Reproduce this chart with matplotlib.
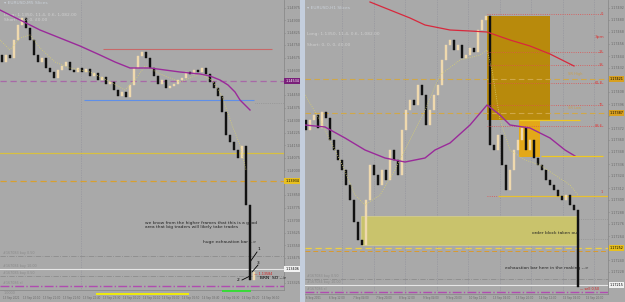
import numpy as np
import matplotlib.pyplot as plt
import matplotlib.transforms as mtransforms
from matplotlib.ticker import MultipleLocator, FuncFormatter
from matplotlib.patches import Rectangle

BG = '#a9a9a9'
UP = '#efd9ae'
DOWN = '#111111'

# ---- left chart (M5) ----
left_first_open = 1.14690
left_close = [1.14648, 1.14690, 1.14672, 1.14780, 1.14870, 1.14912, 1.14852, 1.14780,
              1.14690, 1.14648, 1.14672, 1.14612, 1.14588, 1.14552, 1.14600, 1.14624,
              1.14648, 1.14600, 1.14588, 1.14612, 1.14588, 1.14606, 1.14564, 1.14582,
              1.14540, 1.14558, 1.14516, 1.14528, 1.14480, 1.14444, 1.14468, 1.14438,
              1.14510, 1.14612, 1.14684, 1.14708, 1.14672, 1.14612, 1.14564, 1.14516,
              1.14540, 1.14492, 1.14504, 1.14516, 1.14540, 1.14552, 1.14588, 1.14576,
              1.14600, 1.14588, 1.14612, 1.14576, 1.14528, 1.14492, 1.14444, 1.14348,
              1.14210, 1.14168, 1.14120, 1.14072, 1.14144, 1.13790, 1.13340, 1.13388]
left_ma_x = [-0.5, 2, 4.5, 9.5, 14.5, 19.5, 24.5, 28.25, 32, 34.5, 37, 40.75, 44.5, 49.5,
             52, 54.5, 56.5, 58.25, 59.5, 60.75, 62]
left_ma_y = [1.14960, 1.14930, 1.14900, 1.14840, 1.14792, 1.14744, 1.14690, 1.14648,
             1.14612, 1.14612, 1.14612, 1.14600, 1.14588, 1.14576, 1.14564, 1.14540,
             1.14510, 1.14468, 1.14420, 1.14390, 1.14360]
left_fast_x = [-0.5, 2, 4.5, 7, 9.5, 13.25, 17, 22, 27, 30.75, 33.25, 35.75, 39.5, 44.5,
               49.5, 52.5, 55, 57.5, 59.5, 61]
left_fast_y = [1.14780, 1.14720, 1.14792, 1.14810, 1.14732, 1.14648, 1.14612, 1.14588,
               1.14528, 1.14480, 1.14540, 1.14624, 1.14576, 1.14528, 1.14576, 1.14540,
               1.14444, 1.14270, 1.14150, 1.14000]
left_dates = ['13 Sep 2021', '13 Sep 20:10', '13 Sep 21:00', '13 Sep 21:50', '13 Sep 22:40',
              '13 Sep 23:30', '14 Sep 00:20', '14 Sep 01:10', '14 Sep 02:00', '14 Sep 02:50',
              '14 Sep 03:40', '14 Sep 04:30', '14 Sep 05:20', '14 Sep 06:10']
left_orders = ['#167083 buy 0.50', '#167084 buy 10.00', '#167085 buy 0.50', '#167086 sl']
left_order_levels = [1.13484, 1.13406, 1.13364, 1.13304]

# ---- right chart (H1) ----
right_first_open = 1.17380
right_close = [1.17370, 1.17380, 1.17385, 1.17372, 1.17388, 1.17382, 1.17360, 1.17350,
               1.17340, 1.17330, 1.17315, 1.17300, 1.17278, 1.17260, 1.17255, 1.17300,
               1.17335, 1.17325, 1.17315, 1.17330, 1.17320, 1.17350, 1.17340, 1.17325,
               1.17370, 1.17390, 1.17400, 1.17395, 1.17415, 1.17405, 1.17375, 1.17390,
               1.17405, 1.17415, 1.17440, 1.17455, 1.17460, 1.17450, 1.17455, 1.17442,
               1.17445, 1.17452, 1.17448, 1.17470, 1.17480, 1.17484, 1.17355, 1.17350,
               1.17365, 1.17335, 1.17310, 1.17330, 1.17350, 1.17360, 1.17372, 1.17350,
               1.17360, 1.17342, 1.17335, 1.17330, 1.17320, 1.17315, 1.17310, 1.17304,
               1.17300, 1.17305, 1.17295, 1.17290, 1.17213]
right_red_x = [16, 21, 26, 29.75, 36, 41, 45.25, 51, 56, 61, 67]
right_red_y = [1.17498, 1.17490, 1.17482, 1.17475, 1.17470, 1.17469, 1.17468, 1.17460,
               1.17454, 1.17446, 1.17434]
right_ma_x = [-0.25, 4.75, 9.75, 14.75, 19.75, 24.75, 29.75, 32.25, 36, 41, 45.25, 48.5,
              51, 56, 61, 64.75, 67.25]
right_ma_y = [1.17375, 1.17373, 1.17362, 1.17350, 1.17342, 1.17338, 1.17342, 1.17350,
              1.17357, 1.17375, 1.17395, 1.17385, 1.17375, 1.17372, 1.17362, 1.17350, 1.17344]
right_fast_x = [-0.25, 3.5, 8.5, 12.25, 14.75, 18.5, 22.25, 26, 29.75, 33.5, 38.5, 43.5,
                45.25, 46.5, 48.5, 51, 54.75, 58.5, 62.25, 66, 68]
right_fast_y = [1.17405, 1.17380, 1.17340, 1.17305, 1.17295, 1.17305, 1.17330, 1.17360,
                1.17390, 1.17425, 1.17440, 1.17445, 1.17450, 1.17430, 1.17380, 1.17350,
                1.17340, 1.17335, 1.17325, 1.17315, 1.17305]
fib_levels = [1.17486, 1.17448, 1.17435, 1.17417, 1.17395, 1.17374]
fib_labels = ['0', '23', '38', '61.8', '76', '88.6']
right_dates = ['6 Sep 2021', '6 Sep 12:00', '7 Sep 04:00', '7 Sep 20:00', '8 Sep 12:00',
               '9 Sep 04:00', '9 Sep 20:00', '10 Sep 12:00', '13 Sep 04:00', '13 Sep 20:00',
               '14 Sep 12:00', '15 Sep 04:00', '15 Sep 20:00']
right_orders = ['#167083 buy 0.50', '#167084 buy 10.00', '#167086 sl']
right_order_levels = [1.17221, 1.17215, 1.17208]

left_boxes = [(1.14534, '#7a1f7a', 'white'), (1.13934, '#e8c020', 'black'),
              (1.13406, '#f2f2f2', 'black')]
right_boxes = [(1.17421, '#d8a020', 'black'), (1.17387, '#d8a020', 'black'),
               (1.17252, '#e8c020', 'black'), (1.17215, '#f2f2f2', 'black')]

FS = 3.2
TFS = 2.4


def candles(ax, closes, first_open):
    closes = np.array(closes)
    opens = np.concatenate([[first_open], closes[:-1]])
    x = np.arange(len(closes))
    cols = [UP if c >= o else DOWN for o, c in zip(opens, closes)]
    ax.bar(x, closes - opens, bottom=opens, width=0.4, color=cols,
           edgecolor=cols, linewidth=0.3, zorder=3)


def axis_box(ax, y, fc, tc):
    tr = mtransforms.blended_transform_factory(ax.transAxes, ax.transData)
    ax.text(1.004, y, '%.5f' % y, transform=tr, fontsize=TFS, color=tc, va='center',
            ha='left', clip_on=False, zorder=6,
            bbox=dict(boxstyle='square,pad=0.2', fc=fc, ec='none'))


def style_axis(ax, step, boxes, near):
    ax.set_facecolor(BG)
    ax.yaxis.tick_right()
    ax.yaxis.set_major_locator(MultipleLocator(step))
    levels = [b[0] for b in boxes]

    def fmt(v, pos):
        if any(abs(v - lv) < near for lv in levels):
            return ''
        return '%.5f' % v
    ax.yaxis.set_major_formatter(FuncFormatter(fmt))
    ax.tick_params(axis='y', labelsize=TFS, colors='#6a6a6a', length=1, width=0.4, pad=0.8)
    ax.tick_params(axis='x', length=0, labelbottom=False)
    for s in ['top', 'left']:
        ax.spines[s].set_visible(False)
    for s in ['right', 'bottom']:
        ax.spines[s].set_color('#8a8a8a')
        ax.spines[s].set_linewidth(0.6)
    for lv, fc, tc in boxes:
        axis_box(ax, lv, fc, tc)


fig = plt.figure(figsize=(6.25, 3.02), dpi=100, facecolor=BG)
fig.patches.append(Rectangle((300 / 625, 0), 5 / 625, 1, transform=fig.transFigure,
                             fc='#c4cedd', ec='none'))
fig.patches.append(Rectangle((303.5 / 625, 0), 0.8 / 625, 1, transform=fig.transFigure,
                             fc='#8e98a8', ec='none'))

# ================= LEFT =================
axl = fig.add_axes([0, 12 / 302, 284 / 625, 290 / 302])
axl.set_xlim(-0.5, 70.5)
axl.set_ylim(1.13280, 1.15020)
style_axis(axl, 0.00075, left_boxes, 0.00040)

axl.axvline(19.75, color='#8f8f9a', lw=0.5, ls=(0, (1, 1.5)))
axl.axhline(1.14534, color='#a868a8', lw=0.9, ls=(0, (5, 3)))
axl.hlines(1.14726, 25.25, 67.5, color='#c86868', lw=0.8)
axl.hlines(1.14420, 20.5, 63, color='#5f8fe8', lw=0.8)
axl.hlines(1.14402, 63.25, 70.5, color='#8c8c8c', lw=0.5, ls=':')
axl.axhline(1.14102, color='#d8c040', lw=0.9)
axl.axhline(1.13934, color='#d8a030', lw=0.9, ls=(0, (5, 3)))
axl.axhline(left_order_levels[0], color='#8c8c8c', lw=0.6, ls='-.')
axl.axhline(left_order_levels[1], color='#e6e6e6', lw=0.8)
axl.axhline(left_order_levels[2], color='#8c8c8c', lw=0.6, ls='-.')
axl.axhline(left_order_levels[3], color='#b04cb0', lw=1.0, ls='-.')
for lvl, lab in zip(left_order_levels, left_orders):
    axl.text(0.3, lvl + 0.00006, lab, fontsize=2.4, color='#8a8a8a', va='bottom')

axl.plot(left_fast_x, left_fast_y, color='#d8d070', lw=0.6, ls=':', zorder=4)
axl.plot(left_ma_x, left_ma_y, color='#9a2a9a', lw=1.0, zorder=4)
candles(axl, left_close, left_first_open)

axl.text(35.75, 1.13670, 'we know from the higher frames that this is a good\n'
         'area that big traders will likely take trades', fontsize=FS, color='#222222',
         va='center', linespacing=1.3)
axl.text(50.25, 1.13568, 'huge exhaustion bar -->', fontsize=FS, color='#222222', va='center')
axl.plot([62, 63.75], [1.13448, 1.13508], color='black', lw=0.6)
axl.plot([62.5, 64], [1.13388, 1.13430], color='black', lw=0.6)
axl.plot([60, 62], [1.13340, 1.13364], color='black', lw=0.6)
axl.text(63.8, 1.13526, '1', fontsize=FS, va='center')
axl.text(63.8, 1.13442, '3', fontsize=FS, va='center')
axl.text(59.3, 1.13340, '2', fontsize=FS, va='center', ha='right')
axl.text(64.5, 1.13352, 'BRN  SO -->', fontsize=FS, va='center')
axl.text(63, 1.13378, '— 1.13584', fontsize=2.4, color='#d02020', va='center')

# bottom strip of left chart
axl.hlines(1.13256, 23.5, 46.75, color='#f5f000', lw=1.3, clip_on=False)
axl.hlines(1.13277, 55, 62.25, color='#30e030', lw=1.3, clip_on=False, zorder=7)
axl.text(0.3, 1.13264, '1.0000', fontsize=2.4, color='#8a8a8a', va='center', clip_on=False)
for xp, lab in zip(np.linspace(0.3, 65, len(left_dates)), left_dates):
    axl.text(xp, 1.13234, lab, fontsize=1.9, color='#6a6a6a', va='center', clip_on=False)

axl.text(0.5, 1.15000, '▾ EURUSD,M5 Slices', fontsize=FS, color='#c9d0d8', va='center')
axl.text(0.5, 1.14930, 'Long: 1.1350, 11.4, 0.6, 1,082.00', fontsize=FS, color='#cfcfcf',
         va='center')
axl.text(0.5, 1.14898, 'Short: 0, 0, 0, £0.00', fontsize=FS, color='#cfcfcf', va='center')

# ================= RIGHT =================
axr = fig.add_axes([305 / 625, 8 / 302, 303 / 625, 294 / 302])
axr.set_xlim(-0.25, 75.5)
axr.set_ylim(1.17206, 1.17500)
style_axis(axr, 0.00012, right_boxes, 0.00007)

for gx in np.arange(9, 75, 7.875):
    axr.axvline(gx, color='#8f8f9a', lw=0.5, ls=(0, (1, 1.5)), zorder=1)

axr.add_patch(Rectangle((45.25, 1.17380), 61 - 45.25, 1.17484 - 1.17380,
                        fc='#b88a0c', ec='none', zorder=2))
axr.add_patch(Rectangle((53.25, 1.17343), 58.5 - 53.25, 1.17380 - 1.17343,
                        fc='#e3a818', ec='none', zorder=2))
axr.add_patch(Rectangle((13.75, 1.17255), 67.75 - 13.75, 1.17284 - 1.17255,
                        fc='#c9c36c', ec='#e0d890', lw=0.4, zorder=2))
axr.hlines(1.17380, 53.25, 68.5, color='#f0c820', lw=0.9, zorder=5)
axr.hlines(1.17344, 58.75, 74.25, color='#f0c820', lw=0.9, zorder=5)
for lvl, lab in zip(fib_levels, fib_labels):
    axr.hlines(lvl, 45.25, 74.25, color='#e05050', lw=0.6, ls=':', zorder=4)
    axr.text(74.25, lvl, lab, fontsize=2.6, color='#d83a3a', ha='right', va='center')
axr.text(73.3, 1.17463, '3pm', fontsize=FS, color='#d83a3a', ha='center', va='center')

axr.axhline(1.17421, color='#d0a848', lw=0.8, ls=(0, (5, 3)), zorder=2)
axr.axhline(1.17387, color='#d0a848', lw=0.8, ls=(0, (5, 3)), zorder=2)
axr.text(65.5, 1.17424, 'SR High', fontsize=2.6, color='#c8a050', va='bottom')
axr.text(65.5, 1.17390, 'SR Low', fontsize=2.6, color='#c8a050', va='bottom')
axr.axhline(1.17252, color='#f0d040', lw=0.9, ls=(0, (5, 3)), zorder=2)
axr.axhline(1.17249, color='#d89a30', lw=0.7, ls=(0, (5, 3)), zorder=2)
axr.hlines(1.17304, 48, 75.5, color='#e8c030', lw=0.9, zorder=2)
axr.hlines(1.17304, 45.25, 48, color='#e05050', lw=0.6, ls=':', zorder=2)
axr.text(74.25, 1.17306, '1', fontsize=2.6, color='#d83a3a', ha='right', va='bottom')
axr.hlines([1.17281, 1.17261], 67.75, 75.5, color='#8c8c8c', lw=0.5, ls=':')

axr.axhline(right_order_levels[0], color='#8c8c8c', lw=0.6, ls='-.')
axr.axhline(right_order_levels[1], color='#e6e6e6', lw=0.8)
axr.axhline(right_order_levels[2], color='#b04cb0', lw=1.0, ls='-.')
for lvl, lab in zip(right_order_levels, right_orders):
    axr.text(0.3, lvl + 0.000015, lab, fontsize=2.4, color='#8a8a8a', va='bottom')

axr.plot(right_fast_x, right_fast_y, color='#d8d070', lw=0.6, ls=':', zorder=4)
axr.plot(right_red_x, right_red_y, color='#d8283c', lw=0.9, zorder=4)
axr.plot(right_ma_x, right_ma_y, color='#9a2a9a', lw=1.0, zorder=4)
candles(axr, right_close, right_first_open)

axr.text(56.5, 1.17267, 'order block taken out', fontsize=FS, color='#222222', va='center')
axr.text(49.75, 1.17232, 'exhaustion bar here in the making -->', fontsize=FS,
         color='#222222', va='center')
axr.text(68.5, 1.17211, '— sell 0.50', fontsize=2.4, color='#d02020', va='center')

for xp, lab in zip(np.linspace(0, 70, len(right_dates)), right_dates):
    axr.text(xp, 1.17202, lab, fontsize=1.9, color='#6a6a6a', va='center', clip_on=False)

axr.text(0.3, 1.17492, '▾ EURUSD,H1 Slices', fontsize=FS, color='#c9d0d8', va='center')
axr.text(0.3, 1.17466, 'Long: 1.1350, 11.4, 0.6, 1,082.00', fontsize=FS, color='#cfcfcf',
         va='center')
axr.text(0.3, 1.17455, 'Short: 0, 0, 0, £0.00', fontsize=FS, color='#cfcfcf', va='center')

fig.savefig('out.png', dpi=100, facecolor=BG)
